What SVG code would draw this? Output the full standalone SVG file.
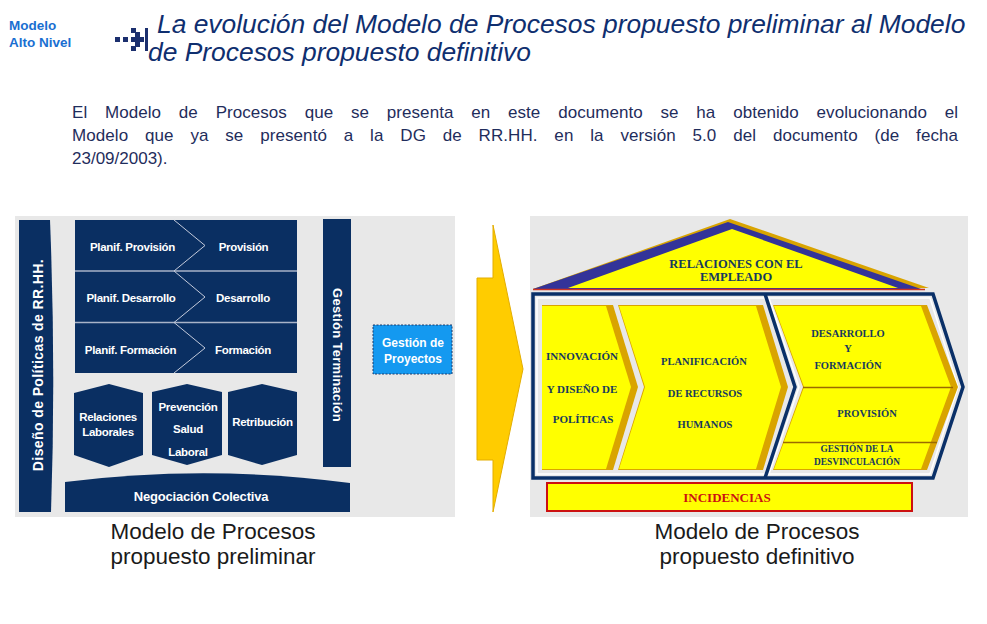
<svg xmlns="http://www.w3.org/2000/svg" width="987" height="624" viewBox="0 0 987 624">
<style>
.navy{fill:#0a2f62}
.lbl{font-family:"Liberation Sans",Arial,sans-serif;font-weight:bold;fill:#ffffff;font-size:11.5px;letter-spacing:-0.3px;text-anchor:middle}
.ser{font-family:"Liberation Serif","Times New Roman",serif;font-weight:bold;fill:#163a5e;text-anchor:middle}
.cap{font-family:"Liberation Sans",Arial,sans-serif;font-size:22.5px;fill:#1a1a1a;text-anchor:middle}
.body{font-family:"Liberation Sans",Arial,sans-serif;font-size:17px;fill:#1f2d5c}
.gold{fill:#d9a400}
.yel{fill:#ffff00}
.chev{fill:none;stroke:#c3cadb;stroke-width:1}
.bg{fill:#e8e8e8}
</style>
<rect width="987" height="624" fill="#ffffff"/>

<g id="header">
  <text x="9" y="30" font-family="Liberation Sans, Arial, sans-serif" font-weight="bold" font-size="13.5" fill="#1a6fd1">Modelo</text>
  <text x="9" y="47" font-family="Liberation Sans, Arial, sans-serif" font-weight="bold" font-size="13.5" fill="#1a6fd1">Alto Nivel</text>
  <g id="icon" fill="#1b2f6e">
    <rect x="115" y="37" width="5" height="5"/>
    <rect x="123" y="37" width="5" height="5"/>
    <rect x="131" y="28" width="5" height="5"/>
    <rect x="131" y="46" width="5" height="5"/>
    <rect x="135" y="32" width="5" height="5"/>
    <rect x="135" y="42" width="5" height="5"/>
    <rect x="131" y="37" width="13" height="5"/>
    <rect x="145" y="28" width="3" height="23"/>
  </g>
  <text x="157" y="33" font-family="Liberation Sans, Arial, sans-serif" font-style="italic" font-size="26.4" fill="#0f2f6f">La evolución del Modelo de Procesos propuesto preliminar al Modelo</text>
  <text x="148" y="61" font-family="Liberation Sans, Arial, sans-serif" font-style="italic" font-size="26.4" fill="#0f2f6f">de Procesos propuesto definitivo</text>
</g>

<g id="paragraph">
  <text class="body" x="72" y="118" textLength="886" lengthAdjust="spacing" word-spacing="13">El Modelo de Procesos que se presenta en este documento se ha obtenido evolucionando el</text>
  <text class="body" x="72" y="141" textLength="886" lengthAdjust="spacing" word-spacing="12">Modelo que ya se presentó a la DG de RR.HH. en la versión 5.0 del documento (de fecha</text>
  <text class="body" x="72" y="164">23/09/2003).</text>
</g>

<g id="left-model">
  <rect class="bg" x="15" y="216" width="440" height="301"/>
  <g id="diseno-politicas">
    <path class="navy" d="M19,220 L50,220 Q56,370 51,512 L19,512 Z"/>
    <text class="lbl" style="font-size:14px;letter-spacing:0.4px" transform="translate(43,365) rotate(-90)">Diseño de Políticas de RR.HH.</text>
  </g>
  <g id="planif-rows">
    <rect class="navy" x="75" y="220" width="222" height="153"/>
    <line x1="75" y1="271" x2="297" y2="271" stroke="#a9b3c8" stroke-width="1.5"/>
    <line x1="75" y1="322.5" x2="297" y2="322.5" stroke="#a9b3c8" stroke-width="1.5"/>
    <polyline class="chev" points="174,220 205,245.5 174,271"/>
    <polyline class="chev" points="174,271 205,297 174,322.5"/>
    <polyline class="chev" points="174,322.5 205,348 174,373"/>
  </g>
  <g id="planif-provision"><text class="lbl" x="132.5" y="251">Planif. Provisión</text></g>
  <g id="provision"><text class="lbl" x="243.5" y="251">Provisión</text></g>
  <g id="planif-desarrollo"><text class="lbl" x="131" y="302">Planif. Desarrollo</text></g>
  <g id="desarrollo"><text class="lbl" x="243" y="302">Desarrollo</text></g>
  <g id="planif-formacion"><text class="lbl" x="130.5" y="354">Planif. Formación</text></g>
  <g id="formacion"><text class="lbl" x="243" y="354">Formación</text></g>
  <g id="relaciones-laborales">
    <polygon class="navy" points="74,393 109,384 143,393 143,455 109,467 74,455"/>
    <text class="lbl" x="108" y="421">Relaciones</text>
    <text class="lbl" x="108" y="436">Laborales</text>
  </g>
  <g id="prevencion">
    <polygon class="navy" points="152,392 187,384 222,392 222,455 187,465 152,455"/>
    <text class="lbl" x="188" y="411">Prevención</text>
    <text class="lbl" x="188" y="433">Salud</text>
    <text class="lbl" x="188" y="456">Laboral</text>
  </g>
  <g id="retribucion">
    <polygon class="navy" points="228,392 262,384 297,392 297,455 262,465 228,455"/>
    <text class="lbl" x="262.5" y="426">Retribución</text>
  </g>
  <g id="negociacion">
    <path class="navy" d="M65,482 Q207,464 350,483 L350,512 L65,512 Z"/>
    <text class="lbl" x="201" y="501" style="font-size:13px;letter-spacing:-0.2px">Negociación Colectiva</text>
  </g>
  <g id="gestion-terminacion">
    <rect class="navy" x="323" y="219" width="28" height="248"/>
    <text class="lbl" style="font-size:13px;letter-spacing:0.3px" transform="translate(332.5,355) rotate(90)">Gestión Terminación</text>
  </g>
  <g id="gestion-proyectos">
    <rect x="373" y="325" width="79" height="49" fill="#1499f0" stroke="#1b3a6b" stroke-width="1" stroke-dasharray="2,1.5"/>
    <text class="lbl" x="413" y="347" style="font-size:12px;letter-spacing:0px">Gestión de</text>
    <text class="lbl" x="413" y="363" style="font-size:12px;letter-spacing:0px">Proyectos</text>
  </g>
  <text class="cap" x="213" y="539">Modelo de Procesos</text>
  <text class="cap" x="213" y="564">propuesto preliminar</text>
</g>

<g id="connectors">
  <polygon points="477,278 493,278 493,225 523,369 493,512 493,460 477,460" fill="#ffcc00" stroke="#e3ad00" stroke-width="1"/>
</g>

<g id="right-model">
  <rect class="bg" x="530" y="216" width="438" height="301"/>
  <g id="relaciones-empleado">
    <polygon points="730,219 929,288 533,289" fill="#d9a400"/>
    <polygon points="728,222 921,289 533,289" fill="#333399"/>
    <polygon points="732,229 898,288 568,288" fill="#ffff00"/>
    <line x1="533" y1="289.5" x2="925" y2="289.5" stroke="#cc3322" stroke-width="1.5"/>
    <text class="ser" x="736" y="267.5" font-size="12.5">RELACIONES CON EL</text>
    <text class="ser" x="736" y="281" font-size="12.5">EMPLEADO</text>
  </g>
  <g id="frame">
    <path d="M537,298 H930 L958,387 L930,474 H537 Z" fill="none" stroke="#ffffff" stroke-width="1.5"/>
    <path d="M533,294 H933 L963,387 L933,478 H533 Z" fill="none" stroke="#0a3068" stroke-width="3.5"/>
    <polyline points="769,298 799,387 769,474" fill="none" stroke="#ffffff" stroke-width="1.5"/>
    <polyline points="765,294 795,387 765,478" fill="none" stroke="#0a3068" stroke-width="3.5"/>
  </g>
  <g id="innovacion">
    <polygon class="gold" points="542,305 613,305 638,387 613,470 542,470"/>
    <polygon class="yel" points="542,306 606,306 631,387 606,469 542,469"/>
    <text class="ser" x="582" y="360" font-size="11">INNOVACIÓN</text>
    <text class="ser" x="582" y="393" font-size="11">Y DISEÑO DE</text>
    <text class="ser" x="583" y="423" font-size="11">POLÍTICAS</text>
  </g>
  <g id="planificacion">
    <polygon class="gold" points="618,305 763,305 788,387 763,470 618,470 644,387"/>
    <polygon class="yel" points="619,306 756,306 781,387 756,469 619,469 645,387"/>
    <text class="ser" x="704" y="365" font-size="10.5">PLANIFICACIÓN</text>
    <text class="ser" x="705" y="397" font-size="10.5">DE RECURSOS</text>
    <text class="ser" x="705" y="428" font-size="10.5">HUMANOS</text>
  </g>
  <g id="desarrollo-formacion">
    <polygon class="gold" points="773,305 927,305 958,387 927,470 773,470 803,387"/>
    <polygon class="yel" points="774,306 921,306 951,387 921,469 774,469 804,387"/>
    <line x1="803" y1="387.5" x2="953" y2="387.5" stroke="#9a6a00" stroke-width="1.5"/>
    <line x1="783" y1="442.5" x2="937" y2="442.5" stroke="#9a6a00" stroke-width="1.5"/>
    <text class="ser" x="848" y="337" font-size="10.5">DESARROLLO</text>
    <text class="ser" x="848" y="352" font-size="10.5">Y</text>
    <text class="ser" x="848" y="369" font-size="10.5">FORMACIÓN</text>
  </g>
  <g id="provision-def">
    <text class="ser" x="867" y="417" font-size="10.5">PROVISIÓN</text>
  </g>
  <g id="desvinculacion">
    <text class="ser" x="857" y="452" font-size="9.3">GESTIÓN DE LA</text>
    <text class="ser" x="857" y="465" font-size="9.3">DESVINCULACIÓN</text>
  </g>
  <g id="incidencias">
    <rect x="547" y="483" width="365" height="28" fill="#ffff00" stroke="#cc1111" stroke-width="2"/>
    <text class="ser" x="727" y="502" font-size="13" style="fill:#cc1111">INCIDENCIAS</text>
  </g>
  <text class="cap" x="757" y="539">Modelo de Procesos</text>
  <text class="cap" x="757" y="564">propuesto definitivo</text>
</g>
</svg>
